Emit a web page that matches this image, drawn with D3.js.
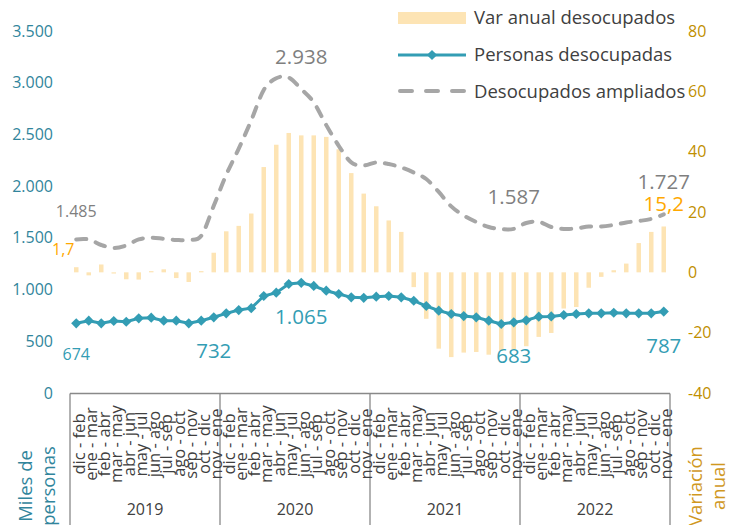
<!DOCTYPE html>
<html>
<head>
<meta charset="utf-8">
<script src="https://cdn.jsdelivr.net/npm/d3@7"></script>
<style>
  body { margin: 0; background: #fff; }
  text { font-family: "Open Sans", sans-serif; }
</style>
</head>
<body>
<script>
// datos
var meses = ["dic - feb", "ene - mar", "feb - abr", "mar - may", "abr - jun", "may - jul",
             "jun - ago", "jul - sep", "ago - oct", "sep - nov", "oct - dic", "nov - ene"];
var anios = ["2019", "2020", "2021", "2022"];

// miles de personas
var personas = [674, 699, 674, 696, 689, 722, 728, 699, 699, 674, 699, 732,
                770, 802, 820, 938, 970, 1054, 1065, 1035, 989, 957, 925, 920,
                931, 938, 925, 892, 841, 796, 764, 744, 732, 699, 667, 683,
                703, 738, 740, 754, 764, 770, 770, 776, 770, 770, 770, 787];
var ampliados = [1485, 1485, 1431, 1402, 1426, 1485, 1502, 1491, 1480, 1480, 1520, 1810,
                 2110, 2363, 2636, 2930, 3043, 3050, 2938, 2810, 2590, 2390, 2230, 2200,
                 2229, 2214, 2181, 2132, 2069, 1944, 1804, 1716, 1654, 1605, 1584, 1587,
                 1644, 1655, 1605, 1586, 1591, 1610, 1610, 1625, 1649, 1663, 1683, 1727];
// variacion anual (%)
var varAnual = [1.7, -1.0, 2.6, -0.4, -2.3, -2.4, 0.4, 1.0, -1.9, -3.2, 0.4, 6.5,
                13.6, 15.4, 19.5, 34.9, 42.3, 46.2, 45.4, 45.4, 44.9, 40.8, 32.9, 26.1,
                21.9, 17.2, 13.4, -4.9, -15.4, -25.3, -28.1, -26.6, -26.4, -27.3, -26.0, -25.5,
                -24.5, -21.4, -20.1, -12.0, -11.5, -5.1, -1.5, 0.7, 2.9, 9.7, 13.4, 15.2];

var ticksMiles = [0, 500, 1000, 1500, 2000, 2500, 3000, 3500];
var ticksVar = [-40, -20, 0, 20, 40, 60, 80];

// puntos con etiqueta
var etqPersonas = [0, 11, 18, 35, 47];
var etqAmpliados = [0, 18, 35, 47];
var etqVar = [0, 47];

var locale = d3.formatLocale({decimal: ",", thousands: ".", grouping: [3], currency: ["$", ""]});
var fmtMiles = locale.format(",d");
var fmtVar = locale.format(",.1f");

var cTeal = "#339db4", cTealDark = "#31859c", cGris = "#a6a6a6", cGrisTxt = "#7f7f7f",
    cBarra = "#fde4b4", cOro = "#bf8f00", cNaranja = "#ffa800", cTexto = "#404040";

var margin = {top: 31, left: 70},
    width = 600,
    height = 362;

var categorias = [];
anios.forEach(function(a) { meses.forEach(function(m) { categorias.push(m); }); });
var idx = d3.range(categorias.length);

var x = d3.scaleBand().domain(idx).range([margin.left, margin.left + width])
          .paddingInner(0.64).paddingOuter(0.32);
var cx = function(i) { return x(i) + x.bandwidth() / 2; };
var yL = d3.scaleLinear().domain([0, 3500]).range([margin.top + height, margin.top]);
var yR = d3.scaleLinear().domain([-40, 80]).range([margin.top + height, margin.top]);

var svg = d3.select("body").append("svg")
    .attr("width", 737)
    .attr("height", 525);

// barras
svg.selectAll(".bar")
  .data(varAnual)
  .enter().append("rect")
    .attr("class", "bar")
    .attr("x", function(d, i) { return x(i); })
    .attr("width", x.bandwidth())
    .attr("y", function(d) { return Math.min(yR(d), yR(0)); })
    .attr("height", function(d) { return Math.abs(yR(d) - yR(0)); })
    .style("fill", cBarra);

// desocupados ampliados
var lineaAmp = d3.line()
    .x(function(d, i) { return cx(i); })
    .y(function(d) { return yL(d); })
    .curve(d3.curveCatmullRom.alpha(0));
svg.append("path")
    .attr("d", lineaAmp(ampliados))
    .attr("fill", "none")
    .attr("stroke", cGris)
    .attr("stroke-width", 4)
    .attr("stroke-linecap", "round")
    .attr("stroke-dasharray", "10,10");

// personas desocupadas
var lineaPer = d3.line()
    .x(function(d, i) { return cx(i); })
    .y(function(d) { return yL(d); });
svg.append("path")
    .attr("d", lineaPer(personas))
    .attr("fill", "none")
    .attr("stroke", cTeal)
    .attr("stroke-width", 3);
var diamante = d3.symbol().type(d3.symbolSquare).size(52);
svg.selectAll(".pt")
  .data(personas)
  .enter().append("path")
    .attr("class", "pt")
    .attr("d", diamante)
    .attr("transform", function(d, i) { return "translate(" + cx(i) + "," + yL(d) + ") rotate(45)"; })
    .attr("fill", cTeal);

// ejes
svg.selectAll(".tl")
  .data(ticksMiles)
  .enter().append("text")
    .attr("x", 53)
    .attr("y", function(d) { return yL(d); })
    .attr("dy", "0.35em")
    .attr("text-anchor", "end")
    .style("font-size", "16px")
    .style("fill", cTealDark)
    .text(function(d) { return fmtMiles(d); });

svg.selectAll(".tr")
  .data(ticksVar)
  .enter().append("text")
    .attr("x", 688)
    .attr("y", function(d) { return yR(d); })
    .attr("dy", "0.35em")
    .style("font-size", "16px")
    .style("fill", cOro)
    .text(function(d) { return d; });

var y0 = margin.top + height + 0.5;
svg.append("line")
    .attr("x1", margin.left).attr("x2", margin.left + width)
    .attr("y1", y0).attr("y2", y0)
    .attr("stroke", "#898989").attr("stroke-width", 1.3);

d3.range(anios.length + 1).forEach(function(k) {
  var xs = margin.left + k * width / anios.length;
  svg.append("line")
      .attr("x1", xs).attr("x2", xs)
      .attr("y1", y0).attr("y2", 525)
      .attr("stroke", "#898989").attr("stroke-width", 1.3);
});

svg.selectAll(".cat")
  .data(categorias)
  .enter().append("text")
    .attr("transform", function(d, i) { return "translate(" + (cx(i) + 8.5) + ",444) rotate(-90)"; })
    .attr("text-anchor", "middle")
    .style("font-size", "16.5px")
    .style("fill", cTexto)
    .text(function(d) { return d; });

svg.selectAll(".anio")
  .data(anios)
  .enter().append("text")
    .attr("x", function(d, k) { return margin.left + (k + 0.5) * width / anios.length; })
    .attr("y", 515)
    .attr("text-anchor", "middle")
    .style("font-size", "16px")
    .style("fill", cTexto)
    .text(function(d) { return d; });

// titulos de ejes
[["Miles de", 32], ["personas", 55]].forEach(function(t) {
  svg.append("text")
      .attr("transform", "translate(" + t[1] + ",486) rotate(-90)")
      .attr("text-anchor", "middle")
      .style("font-size", "18.5px")
      .style("fill", cTealDark)
      .text(t[0]);
});
[["Variación", 702], ["anual", 725]].forEach(function(t) {
  svg.append("text")
      .attr("transform", "translate(" + t[1] + ",486) rotate(-90)")
      .attr("text-anchor", "middle")
      .style("font-size", "18.5px")
      .style("fill", "#d0981f")
      .text(t[0]);
});

// etiquetas de datos
svg.selectAll(".lp")
  .data(etqPersonas)
  .enter().append("text")
    .attr("x", function(i) { return cx(i); })
    .attr("y", function(i) { return yL(personas[i]) + (i === 0 ? 37 : 41); })
    .attr("text-anchor", "middle")
    .style("font-size", function(i) { return i === 0 ? "16px" : "20.5px"; })
    .style("fill", cTeal)
    .text(function(i) { return fmtMiles(personas[i]); });

svg.selectAll(".la")
  .data(etqAmpliados)
  .enter().append("text")
    .attr("x", function(i) { return cx(i); })
    .attr("y", function(i) { return yL(ampliados[i]) - (i === 0 ? 22 : 25); })
    .attr("text-anchor", "middle")
    .style("font-size", function(i) { return i === 0 ? "16px" : "20.5px"; })
    .style("fill", cGrisTxt)
    .text(function(i) { return fmtMiles(ampliados[i]); });

svg.selectAll(".lv")
  .data(etqVar)
  .enter().append("text")
    .attr("x", function(i) { return i === 0 ? cx(i) - 13 : cx(i); })
    .attr("y", function(i) { return yR(varAnual[i]) - (i === 0 ? 12 : 15.5); })
    .attr("text-anchor", "middle")
    .style("font-size", function(i) { return i === 0 ? "16px" : "20.5px"; })
    .style("fill", cNaranja)
    .text(function(i) { return fmtVar(varAnual[i]); });

// leyenda
var lg = svg.append("g");
lg.append("rect").attr("x", 398).attr("y", 12).attr("width", 68).attr("height", 12).attr("fill", cBarra);
lg.append("line").attr("x1", 398).attr("x2", 466).attr("y1", 55).attr("y2", 55)
    .attr("stroke", cTeal).attr("stroke-width", 3);
lg.append("path").attr("d", diamante).attr("transform", "translate(432,55) rotate(45)").attr("fill", cTeal);
lg.append("line").attr("x1", 400).attr("x2", 466).attr("y1", 91).attr("y2", 91)
    .attr("stroke", cGris).attr("stroke-width", 4).attr("stroke-linecap", "round")
    .attr("stroke-dasharray", "12,14");
[["Var anual desocupados", 24], ["Personas desocupadas", 61], ["Desocupados ampliados", 98]].forEach(function(t) {
  lg.append("text")
      .attr("x", 474).attr("y", t[1])
      .style("font-size", "18.5px")
      .style("fill", cTexto)
      .text(t[0]);
});
</script>
</body>
</html>
